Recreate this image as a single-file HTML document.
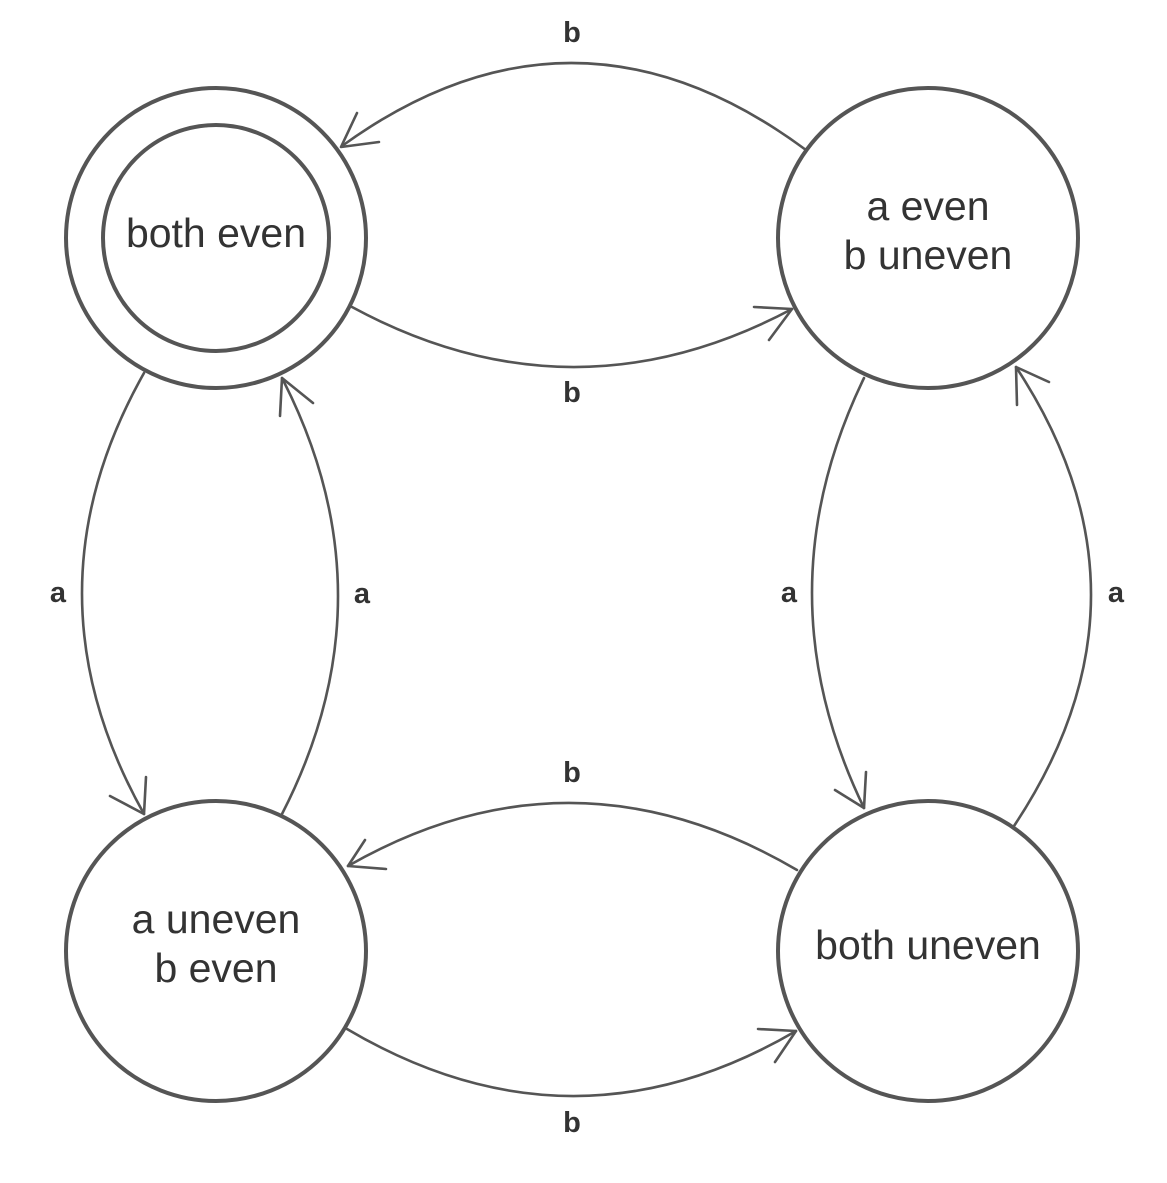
<!DOCTYPE html>
<html><head><style>body{margin:0;background:#fff}svg{display:block}</style></head><body>
<svg width="1167" height="1183" viewBox="0 0 1167 1183" xmlns="http://www.w3.org/2000/svg">
<g fill="none" stroke="#555" stroke-width="4">
<circle cx="216" cy="238" r="150"/>
<circle cx="216" cy="238" r="113"/>
<circle cx="928" cy="238" r="150"/>
<circle cx="216" cy="951" r="150"/>
<circle cx="928" cy="951" r="150"/>
</g>
<g fill="none" stroke="#555" stroke-width="2.6" stroke-linecap="round" stroke-linejoin="round">
<path d="M806,150 Q574,-22 342,146"/><path d="M357,113 L341,147 L379,142"/>
<path d="M352,307 Q572,426 792,309"/><path d="M754,307 L792,309 L769,340"/>
<path d="M144,373 Q20,593 144,814"/><path d="M110,796 L144,814 L146,777"/>
<path d="M282,814 Q394,596 282,378"/><path d="M280,416 L282,378 L313,403"/>
<path d="M864,378 Q760,593 864,808"/><path d="M835,790 L864,808 L866,772"/>
<path d="M1014,826 Q1167,596 1016,367"/><path d="M1017,405 L1016,367 L1049,382"/>
<path d="M797,870 Q572,738 348,866"/><path d="M365,840 L348,866 L386,869"/>
<path d="M347,1029 Q572,1162 796,1031"/><path d="M758,1029 L796,1031 L775,1062"/>
</g>
<g font-family="Liberation Sans, sans-serif" font-weight="bold" font-size="29" fill="#333" text-anchor="middle">
<text x="572" y="42">b</text>
<text x="572" y="402">b</text>
<text x="572" y="782">b</text>
<text x="572" y="1132">b</text>
<text x="58" y="602">a</text>
<text x="362" y="603">a</text>
<text x="789" y="602">a</text>
<text x="1116" y="602">a</text>
</g>
<g font-family="Liberation Sans, sans-serif" font-size="41" fill="#333" text-anchor="middle">
<text x="216" y="247">both even</text>
<text x="928" y="220">a even</text>
<text x="928" y="269">b uneven</text>
<text x="216" y="933">a uneven</text>
<text x="216" y="982">b even</text>
<text x="928" y="959">both uneven</text>
</g>
</svg>
</body></html>
